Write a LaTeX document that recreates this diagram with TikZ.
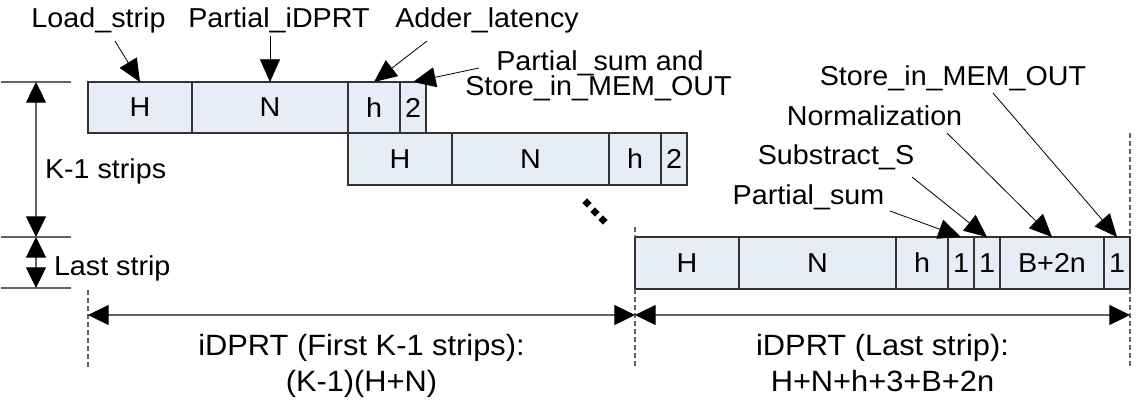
\documentclass[tikz,border=0pt]{standalone}
\usepackage{fontspec}
\setmainfont{Liberation Sans}[FakeStretch=1.05]
\usetikzlibrary{arrows.meta,shapes.geometric}
\definecolor{cellfill}{RGB}{231,237,247}
\definecolor{linegray}{RGB}{100,100,100}
\begin{document}
\begin{tikzpicture}[x=0.75pt,y=-0.75pt,
  txt/.style={font=\fontsize{20.5}{24}\selectfont, inner sep=0pt, outer sep=0pt},
  bigtxt/.style={txt, font=\fontsize{22}{26}\selectfont},
  cell/.style={txt, draw=black!80, line width=0.8pt, fill=cellfill},
  w/.style={minimum width=#1*0.75pt},
  hA/.style={minimum height=38.25pt},
  hB/.style={minimum height=39pt},
  tip/.style={-{Triangle[length=17pt,width=15pt,color=black]}},
  ptr/.style={tip, draw=black, line width=0.6pt},
  dim/.style={{Triangle[length=15.5pt,width=15pt,color=black]}-{Triangle[length=15.5pt,width=15pt,color=black]}, draw=linegray, line width=0.9pt},
  tick/.style={draw=linegray, line width=0.9pt},
  dash line/.style={draw=linegray, line width=0.8pt, dash pattern=on 3.75pt off 2.25pt},
  dot/.style={diamond, fill=black, inner sep=0pt, minimum size=7pt}]
\useasboundingbox (0,0) rectangle (1138,400);

% strip 1
\node[cell, hA, w=104, anchor=north west] (a1) at (88,82) {H};
\node[cell, hA, w=156, anchor=west] (a2) at (a1.east) {N};
\node[cell, hA, w=52, anchor=west] (a3) at (a2.east) {h};
\node[cell, hA, w=26, anchor=west] (a4) at (a3.east) {2};
% strip 2
\node[cell, hB, w=104, anchor=north west] (b1) at (348,133) {H};
\node[cell, hB, w=157, anchor=west] (b2) at (b1.east) {N};
\node[cell, hB, w=52, anchor=west] (b3) at (b2.east) {h};
\node[cell, hB, w=26, anchor=west] (b4) at (b3.east) {2};
% last strip
\node[cell, hB, w=104, anchor=north west] (c1) at (635,237) {H};
\node[cell, hB, w=157, anchor=west] (c2) at (c1.east) {N};
\node[cell, hB, w=52, anchor=west] (c3) at (c2.east) {h};
\node[cell, hB, w=26, anchor=west] (c4) at (c3.east) {1};
\node[cell, hB, w=26, anchor=west] (c5) at (c4.east) {1};
\node[cell, hB, w=104, anchor=west] (c6) at (c5.east) {B+2n};
\node[cell, hB, w=26, anchor=west] (c7) at (c6.east) {1};

% dots
\node[dot] (d1) at (587,203) {};
\node[dot] (d2) at (595,212) {};
\node[dot] (d3) at (603,220) {};

% top labels
\node[txt, anchor=base] (lLoad) at (98.5,27) {Load\_strip};
\node[txt, anchor=base] (lPid) at (279,27) {Partial\_iDPRT};
\node[txt, anchor=base] (lAdd) at (487,27) {Adder\_latency};
\node[txt, anchor=base] (lPs1) at (600,70) {Partial\_sum and};
\node[txt, anchor=base] (lPs2) at (598.5,95) {Store\_in\_MEM\_OUT};
% right labels
\node[txt, anchor=base] (rSt) at (953,85) {Store\_in\_MEM\_OUT};
\node[txt, anchor=base] (rNo) at (874.5,125) {Normalization};
\node[txt, anchor=base] (rSu) at (836,164) {Substract\_S};
\node[txt, anchor=base] (rPs) at (808.5,204) {Partial\_sum};

% pointer start points
\coordinate (pLoad) at (115,41);
\coordinate (pPid) at (270,36);
\coordinate (pAdd) at (427,41);
\coordinate (pPs) at (479,68);
\coordinate (qSt) at (993,93);
\coordinate (qNo) at (947,133);
\coordinate (qSu) at (912,177);
\coordinate (qPs) at (890,211);

\draw[ptr] (pLoad) -- (a1.north);
\draw[ptr] (pPid) -- (a2.north);
\draw[ptr] (pAdd) -- (a3.north);
\draw[ptr] (pPs) -- (a4.north);
\draw[ptr] (qSt) -- (c7.north);
\draw[ptr] (qNo) -- (c6.north);
\draw[ptr] (qSu) -- (c5.north);
\draw[ptr] (qPs) -- (c4.north);

% left vertical dimensions
\coordinate (t1) at (36,82);
\coordinate (t2) at (36,237);
\coordinate (t3) at (36,288);
\draw[tick] ([xshift=-26]t1) -- ([xshift=26]t1);
\draw[tick] ([xshift=-26]t2) -- ([xshift=26]t2);
\draw[tick] ([xshift=-26]t3) -- ([xshift=26]t3);
\draw[dim] (t1) -- (t2);
\draw[dim] (t2) -- (t3);
\node[txt, anchor=base west] (lK) at (45,178) {K-1 strips};
\node[txt, anchor=base west] (lL) at (54,275) {Last strip};

% horizontal dimensions
\coordinate (h1) at (88,315);
\coordinate (h2) at (635,315);
\coordinate (h3) at (1130,315);
\draw[dash line] (88,290) -- (88,367);
\draw[dash line] (635,227) -- (635,237);
\draw[dash line] (635,289) -- (635,367);
\draw[dash line] (1130,133) -- (1130,237);
\draw[dash line] (1130,289) -- (1130,367);
\draw[dim] (h1) -- (h2);
\draw[dim] (h2) -- (h3);
\node[bigtxt, anchor=base] (dl1) at (361.5,355) {iDPRT (First K-1 strips):};
\node[bigtxt, anchor=base] (dl2) at (361.5,391) {(K-1)(H+N)};
\node[bigtxt, anchor=base] (dr1) at (882.5,355) {iDPRT (Last strip):};
\node[bigtxt, anchor=base] (dr2) at (882.5,391) {H+N+h+3+B+2n};
\end{tikzpicture}
\end{document}
